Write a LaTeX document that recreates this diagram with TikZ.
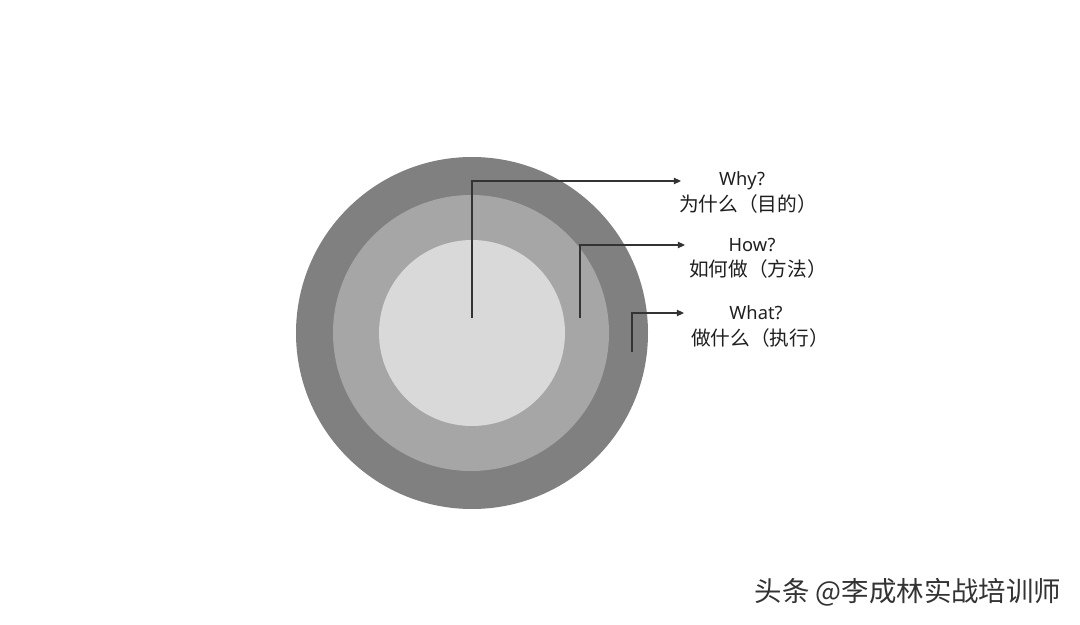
\documentclass[tikz,border=0pt]{standalone}
\usepackage{fontspec}
\setmainfont{Noto Sans}
\newfontfamily\cjk{Noto Sans CJK SC}
\usetikzlibrary{arrows.meta}
\definecolor{ringout}{HTML}{808080}
\definecolor{ringmid}{HTML}{A6A6A6}
\definecolor{ringin}{HTML}{D9D9D9}
\definecolor{leader}{HTML}{333333}
\tikzset{
  lead/.style={draw=leader, line width=0.75pt, -{Triangle[length=5pt,width=4.5pt]}},
  lbl/.style={inner sep=0pt, font=\fontsize{13}{15}\selectfont, text=black!88},
  cnlbl/.style={inner sep=0pt, font=\cjk\fontsize{14}{15}\selectfont, text=black!88}
}
\begin{document}
\begin{tikzpicture}[x=0.025cm, y=-0.025cm]
            \useasboundingbox[fill=white] (0,0) rectangle (1080,625);

            \fill[ringout] (472,333) circle (176);
            \fill[ringmid] (471,333) circle (138);
            \fill[ringin] (472,333) circle (93);

            \coordinate (whystart) at (472,318);
            \coordinate (howstart) at (580,318);
            \coordinate (whatstart) at (632,352);
            \coordinate (whyend) at (681,181);
            \coordinate (howend) at (685,245);
            \coordinate (whatend) at (684,313);

            \node[lbl] (why) at (742,181) {Why?};
            \node[cnlbl] (whycn) at (748,204) {为什么（目的）};
            \node[lbl] (how) at (752,245) {How?};
            \node[cnlbl] (howcn) at (758,269) {如何做（方法）};
            \node[lbl] (what) at (756,313) {What?};
            \node[cnlbl] (whatcn) at (760,338) {做什么（执行）};

            \draw[lead] (whystart) |- (whyend);
            \draw[lead] (howstart) |- (howend);
            \draw[lead] (whatstart) |- (whatend);

            \node[inner sep=0pt, font=\cjk\fontsize{19.5}{21}\selectfont, text=black!80] (mark) at (908,592) {头条 @李成林实战培训师};
        \end{tikzpicture}
\end{document}
